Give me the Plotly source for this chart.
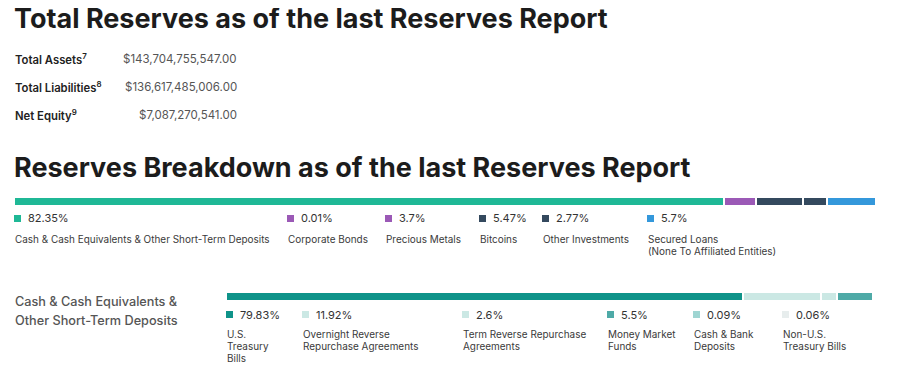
import plotly.graph_objects as go

W, H = 904, 377
OFF = 8  # page body margin in the browser

# ---------------- data ----------------
summary_labels = ["Total Assets<sup>7</sup>", "Total Liabilities<sup>8</sup>", "Net Equity<sup>9</sup>"]
summary_values = ["$143,704,755,547.00", "$136,617,485,006.00", "$7,087,270,541.00"]

reserve_labels = [
    ["Cash & Cash Equivalents & Other Short-Term Deposits"],
    ["Corporate Bonds"],
    ["Precious Metals"],
    ["Bitcoins"],
    ["Other Investments"],
    ["Secured Loans", "(None To Affiliated Entities)"],
]
reserve_values = [82.35, 0.01, 3.7, 5.47, 2.77, 5.7]
reserve_pct_text = ["82.35%", "0.01%", "3.7%", "5.47%", "2.77%", "5.7%"]

cash_labels = [
    ["U.S.", "Treasury", "Bills"],
    ["Overnight Reverse", "Repurchase Agreements"],
    ["Term Reverse Repurchase", "Agreements"],
    ["Money Market", "Funds"],
    ["Cash & Bank", "Deposits"],
    ["Non-U.S.", "Treasury Bills"],
]
cash_values = [79.83, 11.92, 2.6, 5.5, 0.09, 0.06]
cash_pct_text = ["79.83%", "11.92%", "2.6%", "5.5%", "0.09%", "0.06%"]

# ---------------- styles ----------------
reserve_colors = ["#1fb896", "#9b59b6", "#9b59b6", "#34495e", "#34495e", "#3498db"]
cash_colors = ["#0f9389", "#cbe8e4", "#cbe8e4", "#4eaaa7", "#9fd5d2", "#e7eded"]
reserve_leg_x = [14, 287, 385, 479, 542, 647]
cash_leg_x = [226, 302, 462, 607, 693, 782]

FONT = "Inter, Noto Sans, sans-serif"

def px(x):
    return (x - OFF) / W

def py(y):
    return 1 - (y - OFF) / H

fig = go.Figure()

# bars (stacked horizontal)
for v, c, lab in zip(reserve_values, reserve_colors, reserve_labels):
    fig.add_trace(go.Bar(
        x=[v], y=[0], orientation="h", width=1,
        marker=dict(color=c, line=dict(color="white", width=2)),
        xaxis="x", yaxis="y", name=" ".join(lab), hoverinfo="skip", showlegend=False,
    ))
for v, c, lab in zip(cash_values, cash_colors, cash_labels):
    fig.add_trace(go.Bar(
        x=[v], y=[0], orientation="h", width=1,
        marker=dict(color=c, line=dict(color="white", width=2)),
        xaxis="x2", yaxis="y2", name=" ".join(lab), hoverinfo="skip", showlegend=False,
    ))

ann = []
shapes = []

def text(x, y, s, size, color, weight=400, xanchor="left"):
    ann.append(dict(
        x=px(x), y=py(y), xref="paper", yref="paper", text=s, showarrow=False,
        xanchor=xanchor, yanchor="middle",
        font=dict(family=FONT, size=size, color=color, weight=weight),
    ))

# titles
text(12, 19, "Total Reserves as of the last Reserves Report", 27, "#1c1c1c", 700)
text(12, 167, "Reserves Breakdown as of the last Reserves Report", 27, "#1c1c1c", 700)

# summary rows
for i, (l, v) in enumerate(zip(summary_labels, summary_values)):
    yy = 59 + i * 28
    text(13, yy, l, 11.3, "#222", 600)
    text(239, yy, v, 11.5, "#555", 400, xanchor="right")

# legend 1
for x, c, pct, lab in zip(reserve_leg_x, reserve_colors, reserve_pct_text, reserve_labels):
    shapes.append(dict(type="rect", xref="paper", yref="paper",
                       x0=px(x), x1=px(x + 7), y0=py(222), y1=py(215),
                       fillcolor=c, line=dict(width=0)))
    text(x + 12, 218.5, pct, 11, "#333")
    for j, line in enumerate(lab):
        text(x - 1, 238.5 + j * 12, line, 9.95, "#3a3a3a")

# section 2 label
text(13, 301, "Cash & Cash Equivalents &", 12.7, "#555", 500)
text(13, 320, "Other Short-Term Deposits", 12.7, "#555", 500)

# legend 2
for x, c, pct, lab in zip(cash_leg_x, cash_colors, cash_pct_text, cash_labels):
    shapes.append(dict(type="rect", xref="paper", yref="paper",
                       x0=px(x), x1=px(x + 7), y0=py(318), y1=py(311),
                       fillcolor=c, line=dict(width=0)))
    text(x + 12, 314.5, pct, 11, "#333")
    for j, line in enumerate(lab):
        text(x - 1, 333.5 + j * 12, line, 9.95, "#3a3a3a")

axis_common = dict(visible=False, fixedrange=True, showgrid=False, zeroline=False)
fig.update_layout(
    width=W, height=H,
    margin=dict(l=0, r=0, t=0, b=0),
    paper_bgcolor="white", plot_bgcolor="white",
    barmode="stack", bargap=0,
    showlegend=False,
    xaxis=dict(domain=[px(14), px(876)], range=[0, 100], anchor="y", **axis_common),
    yaxis=dict(domain=[py(206), py(197)], range=[-0.5, 0.5], anchor="x", **axis_common),
    xaxis2=dict(domain=[px(226), px(874)], range=[0, 100], anchor="y2", **axis_common),
    yaxis2=dict(domain=[py(301), py(292)], range=[-0.5, 0.5], anchor="x2", **axis_common),
    annotations=ann,
    shapes=shapes,
)

fig.write_html("out.html")
